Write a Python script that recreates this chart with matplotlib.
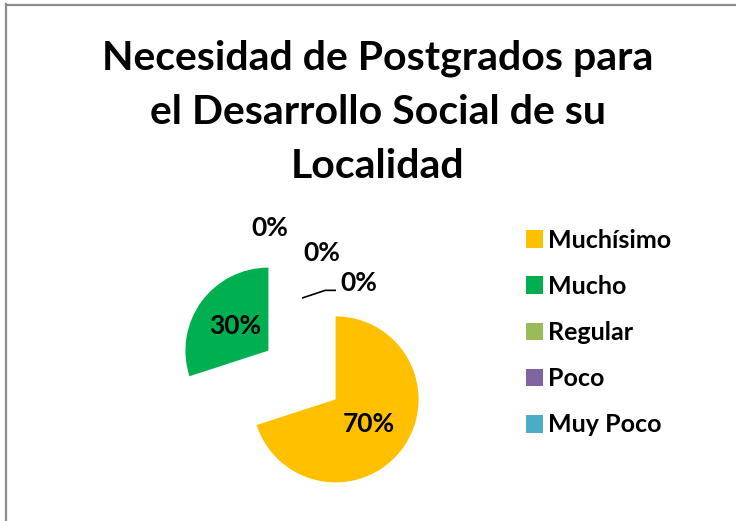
import matplotlib
matplotlib.use("Agg")
import matplotlib.pyplot as plt
from matplotlib.lines import Line2D

plt.rcParams['font.family'] = ['Lato', 'DejaVu Sans']

# data
categories = ["Muchísimo", "Mucho", "Regular", "Poco", "Muy Poco"]
values = [70, 30, 0, 0, 0]
colors = ["#FFC000", "#00B050", "#9BBB59", "#8064A2", "#4BACC6"]
title = "Necesidad de Postgrados para\nel Desarrollo Social de su\nLocalidad"

W, H = 736, 521
fig = plt.figure(figsize=(W / 100, H / 100), dpi=100)
fig.patch.set_facecolor("white")

# pie axes covering the whole figure, 83 px per data unit
scale = 83.0
cx, cy = 302, 146  # pie centre in px (from left, from bottom)
ax = fig.add_axes([0, 0, 1, 1])

def pct(p):
    return "" if p < 0.5 else f"{p:.0f}%"

wedges, texts, autotexts = ax.pie(
    values, colors=colors, startangle=90, counterclock=False,
    explode=[0.5] * len(values), autopct=pct, pctdistance=0.5,
    textprops=dict(fontsize=19, fontweight="bold", color="black"),
)
ax.set_xlim(-cx / scale, (W - cx) / scale)
ax.set_ylim(-cy / scale, (H - cy) / scale)
ax.set_aspect("auto")
ax.axis("off")

# labels of the empty slices (placed as in the original)
zero_lbl = dict(fontsize=19, fontweight="bold", ha="center", va="center")
ax.text(-0.39, 1.77, "0%", **zero_lbl)
ax.text(0.24, 1.47, "0%", **zero_lbl)
ax.text(0.68, 1.11, "0%", **zero_lbl)
ax.plot([0.01, 0.28, 0.40], [0.93, 1.02, 1.02], color="black", lw=1.2)

# title
fig.text(378 / W, 1 - 112 / H, title, ha="center", va="center",
         fontsize=29.5, fontweight="bold", linespacing=1.57)

# legend
ax.legend(wedges, categories, loc="upper left",
          bbox_to_anchor=(503 / W, 1 - 206 / H), bbox_transform=fig.transFigure,
          frameon=False, prop=dict(size=18, weight="bold"),
          handlelength=0.7, handleheight=0.7, handletextpad=0.2,
          labelspacing=0.93)

# chart frame (left and top only visible)
fig.add_artist(Line2D([6.5 / W, 6.5 / W], [0, 1 - 4 / H], transform=fig.transFigure,
                      color="#8c8c8c", lw=1.6))
fig.add_artist(Line2D([6.5 / W, 1], [1 - 4.5 / H, 1 - 4.5 / H], transform=fig.transFigure,
                      color="#8c8c8c", lw=1.6))

fig.savefig("out.png", dpi=100)
